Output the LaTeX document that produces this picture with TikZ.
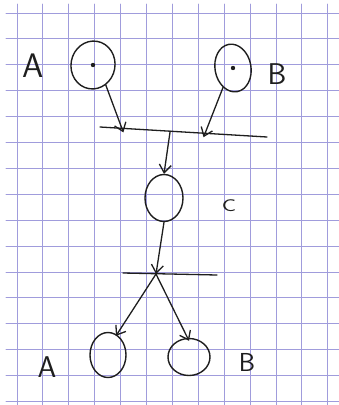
\documentclass[tikz,border=0pt]{standalone}
\usepackage{tikz}
\usetikzlibrary{shapes.geometric,arrows.meta,positioning,calc}
\usepackage{xcolor}
\definecolor{gridblue}{RGB}{160,156,220}
\definecolor{ink}{RGB}{30,30,30}

\begin{document}
\begin{tikzpicture}[x=1pt, y=-1pt, line cap=round, line join=round,
    every node/.style={font=\sffamily, text=ink},
    blob/.style={draw=ink, line width=1.4pt, ellipse, inner sep=0pt},
    flow/.style={draw=ink, line width=1.3pt, -{Straight Barb[length=8pt,width=12pt,line width=1.3pt]}},
    bar/.style={draw=ink, line width=1.3pt}]
  % paper
  \fill[white] (0,0) rectangle (339,405);
  \useasboundingbox (0,0) rectangle (339,405);
  \foreach \i in {0,...,12}
    \draw[gridblue, line width=1pt] (17+25.9*\i,4) -- (17+25.9*\i,405);
  \foreach \j in {0,...,15}
    \draw[gridblue, line width=1pt] (6,13+25.9*\j) -- (339,13+25.9*\j);
  % top row
  \node[blob,minimum width=44pt,minimum height=48pt,rotate=-10] (ta) at (93,65) {};
  \node[blob,minimum width=36pt,minimum height=48pt,rotate=10] (tb) at (233,68) {};
  \fill[ink] (ta.center) circle (2.2pt);
  \fill[ink] (tb.center) circle (2.2pt);
  \node[font=\sffamily\fontsize{34}{34}\selectfont] (la) at (33,66) {A};
  \node[font=\sffamily\fontsize{30}{30}\selectfont] (lb) at (277,74) {B};
  % upper bar
  \coordinate (ua) at (100,127);
  \coordinate (ub) at (267,137);
  \draw[bar] (ua) -- (ub);
  \coordinate (uin1) at ($(ua)!0.14!(ub)$);
  \coordinate (uin2) at ($(ua)!0.62!(ub)$);
  \coordinate (uout) at ($(ua)!0.42!(ub)$);
  \draw[flow] (ta.south east) -- ([yshift=-4pt]uin1);
  \draw[flow] (tb.south west) -- ([yshift=-4pt]uin2);
  % middle
  \node[blob,minimum width=38pt,minimum height=47pt] (c) at (164,198) {};
  \node[font=\sffamily\fontsize{17}{17}\selectfont,xscale=1.4] (lc) at (229,206) {C};
  \draw[flow] (uout) -- (c.north);
  % lower bar
  \coordinate (la1) at (123,273);
  \coordinate (lb1) at (217,275);
  \draw[bar] (la1) -- (lb1);
  \coordinate (lj) at (156,274);
  \draw[flow] (c.south) -- (lj);
  % bottom row
  \node[blob,minimum width=36pt,minimum height=45pt] (ba) at (108,355) {};
  \node[blob,minimum width=42pt,minimum height=37pt] (bb) at (189,357) {};
  \node[font=\sffamily\fontsize{30}{30}\selectfont] (lba) at (47,367) {A};
  \node[font=\sffamily\fontsize{26}{26}\selectfont] (lbb) at (247,362) {B};
  \draw[flow] (lj) -- ([shift={(8pt,-4pt)}]ba.north);
  \draw[flow] (lj) -- ([yshift=-3pt]bb.north);
\end{tikzpicture}
\end{document}
